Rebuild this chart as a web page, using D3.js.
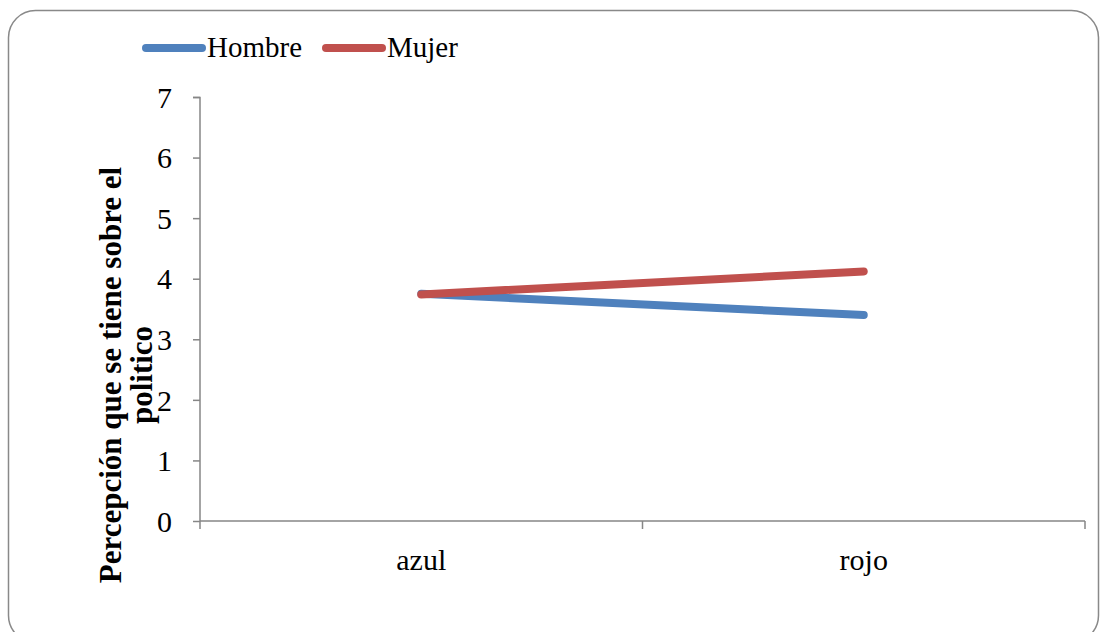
<!DOCTYPE html>
<html><head><meta charset="utf-8">
<script src="https://cdn.jsdelivr.net/npm/d3@7"></script>
<style>body{margin:0;background:#fff}svg{display:block}text{font-family:"Liberation Serif","Times New Roman",serif}</style>
</head><body>
<svg id="c" width="1101" height="632"></svg>
<script>
const categories = ["azul", "rojo"];
const hombre = [3.75, 3.40];
const mujer = [3.74, 4.12];
const yTicks = [0, 1, 2, 3, 4, 5, 6, 7];
const seriesNames = ["Hombre", "Mujer"];
const seriesColors = ["#4F81BD", "#C0504D"];
const yTitle = ["Percepción que se tiene sobre el", "politico"];

const svg = d3.select("#c");
svg.append("rect").attr("x", 8.5).attr("y", 10.5).attr("width", 1090).attr("height", 632)
  .attr("rx", 27).attr("fill", "#fff").attr("stroke", "#898989").attr("stroke-width", 1.5);

const x = d3.scaleBand().domain(categories).range([200, 1085]);
const y = d3.scaleLinear().domain([0, 7]).range([521, 97]);
const axisColor = "#868686";

// y axis
const ya = svg.append("g").attr("transform", "translate(200,0)")
  .call(d3.axisLeft(y).tickValues(yTicks).tickSize(7).tickPadding(21).tickFormat(d3.format("d")));
ya.select(".domain").attr("stroke", axisColor).attr("stroke-width", 1.5).attr("d", "M-7,97.5H0V521");
ya.selectAll(".tick line").attr("stroke", axisColor).attr("stroke-width", 1.5);
ya.selectAll(".tick text").attr("font-size", 30).attr("fill", "#000").attr("dy", "0.34em")
  .style("font-family", "'Liberation Serif', serif");

// x axis
const xa = svg.append("g").attr("transform", "translate(0,521)")
  .call(d3.axisBottom(x).tickSize(0).tickPadding(0));
xa.select(".domain").attr("stroke", axisColor).attr("stroke-width", 1.5).attr("d", "M200,0H1085");
xa.selectAll(".tick line").remove();
xa.selectAll(".tick text").attr("font-size", 30).attr("fill", "#000").attr("y", 49).attr("dy", 0)
  .style("font-family", "'Liberation Serif', serif");
const bounds = [200, ...categories.map(c => x(c) + x.bandwidth())];
xa.selectAll(".xt").data(bounds).enter().append("line").attr("class", "xt")
  .attr("x1", d => d).attr("x2", d => d).attr("y1", 0).attr("y2", 8)
  .attr("stroke", axisColor).attr("stroke-width", 1.5);

// y title
const t = svg.append("text").attr("transform", "translate(121,375) rotate(-90)")
  .attr("text-anchor", "middle").attr("font-size", 31).attr("font-weight", "bold").attr("fill", "#000");
t.append("tspan").attr("x", 0).attr("y", 0).text(yTitle[0]);
t.append("tspan").attr("x", 0).attr("y", 31).text(yTitle[1]);

// lines
const line = d3.line().x((d, i) => x(categories[i]) + x.bandwidth() / 2).y(d => y(d));
[hombre, mujer].forEach((s, i) => {
  svg.append("path").attr("d", line(s)).attr("fill", "none").attr("stroke", seriesColors[i])
    .attr("stroke-width", 8).attr("stroke-linecap", "round").attr("stroke-linejoin", "round");
});

// legend
const legX = [146, 326];
seriesNames.forEach((n, i) => {
  svg.append("line").attr("x1", legX[i]).attr("x2", legX[i] + 56).attr("y1", 48).attr("y2", 48)
    .attr("stroke", seriesColors[i]).attr("stroke-width", 8).attr("stroke-linecap", "round");
  svg.append("text").attr("x", legX[i] + 61).attr("y", 57).attr("font-size", 29).attr("fill", "#000").text(n);
});
</script>
</body></html>
